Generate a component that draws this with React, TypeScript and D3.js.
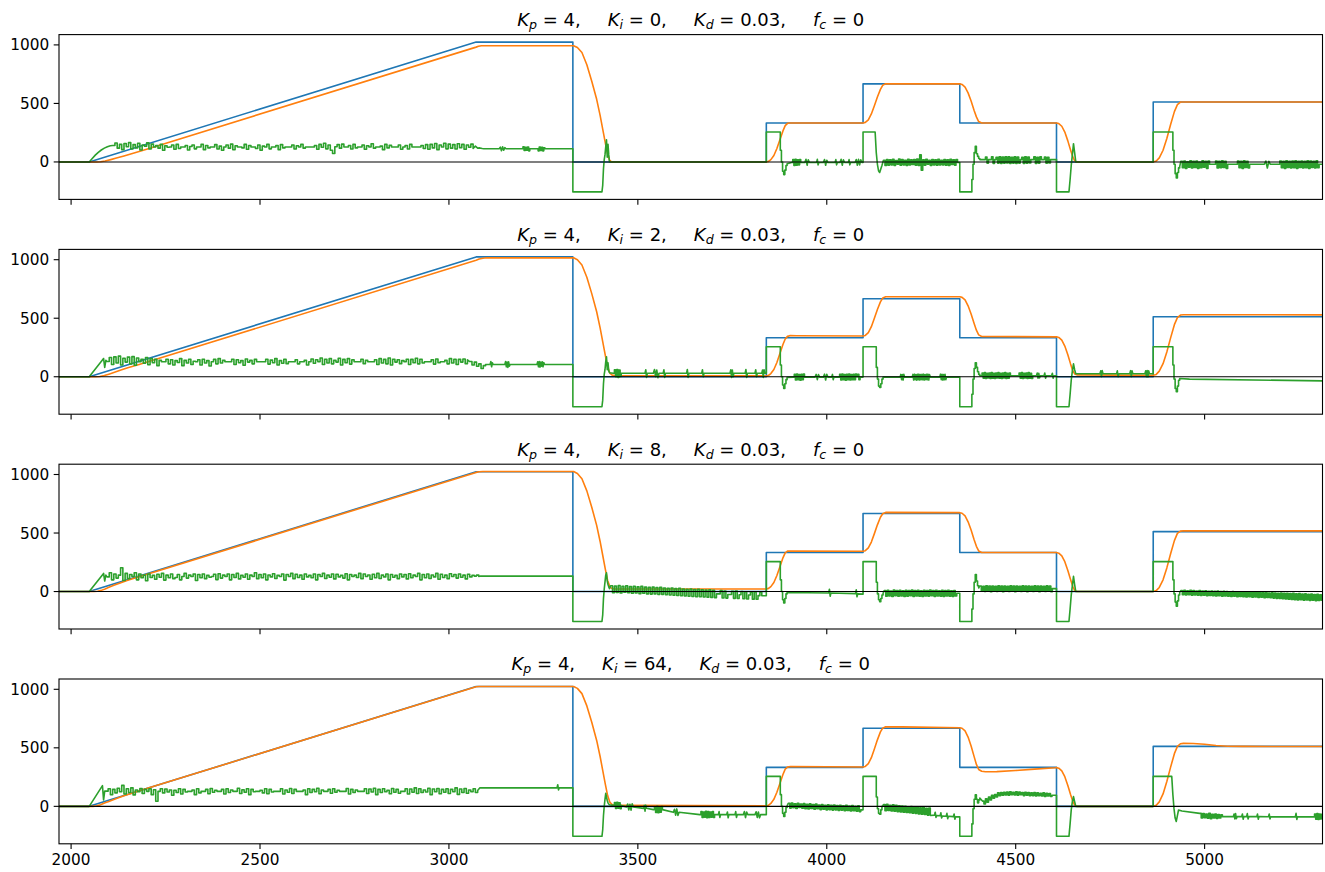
import React from "react";
import * as d3 from "d3";

type Pt = [number, number];
type Run = [number, number, number[]]; // [t0, dt, values]

const W = 1325;
const H = 872;
const xDomain: [number, number] = [1968, 5312];
const yDomain: [number, number] = [-320, 1088];
const xTicks = [2000, 2500, 3000, 3500, 4000, 4500, 5000];
const yTicks = [0, 500, 1000];
const Kp = 4;
const Kd = 0.03;
const fc = 0;
const KiValues = [0, 2, 8, 64];

// setpoint (blue), same in every panel
const setpoint: Pt[] = [
  [1968, 0], [2048, 0], [3072, 1024], [3328, 1024], [3328, 0], [3840, 0], [3840, 333],
  [4096, 333], [4096, 667], [4352, 667], [4352, 333], [4608, 333], [4608, 0], [4864, 0],
  [4864, 512], [5312, 512],
];

// position (orange)
const posKi0: Pt[] = [
  [1968, 0], [2068, 0], [2078, 2], [2090, 8], [2105, 20], [2120, 33], [2140, 51], [2160, 70], [2200, 109],
  [3072, 981], [3078, 988], [3086, 993], [3330, 993], [3340, 978], [3352, 935], [3365, 830], [3378, 690],
  [3391, 535], [3400, 400], [3407, 280], [3414, 160], [3420, 70], [3425, 15], [3430, 0], [3840, 0],
  [3846, 5], [3852, 20], [3860, 55], [3868, 115], [3876, 190], [3884, 265], [3890, 310], [3896, 330],
  [3902, 333], [4096, 333], [4102, 338], [4110, 360], [4118, 410], [4126, 480], [4134, 555], [4142, 620],
  [4148, 655], [4155, 667], [4352, 667], [4358, 662], [4366, 640], [4374, 590], [4382, 520], [4390, 440],
  [4396, 385], [4402, 345], [4410, 333], [4608, 333], [4614, 328], [4622, 305], [4630, 255], [4638, 180],
  [4645, 105], [4651, 45], [4656, 10], [4662, 0], [4864, 0], [4872, 8], [4880, 35], [4890, 100],
  [4900, 200], [4910, 320], [4920, 430], [4928, 490], [4936, 512], [5312, 512],
];
const posKi2: Pt[] = [
  [1968, 0], [2066, 0], [2076, 2], [2088, 10], [2100, 22], [2115, 38], [2130, 55], [2150, 76], [2180, 104],
  [3072, 996], [3080, 1006], [3090, 1013], [3100, 1016], [3330, 1016], [3340, 1000], [3352, 955], [3365, 850],
  [3378, 710], [3391, 555], [3400, 420], [3407, 300], [3414, 180], [3420, 85], [3426, 30], [3432, 14],
  [3440, 11], [3840, 7], [3846, 12], [3852, 27], [3860, 62], [3868, 122], [3876, 198], [3884, 275],
  [3890, 322], [3896, 345], [3902, 351], [3920, 350], [4096, 348], [4102, 353], [4110, 377], [4118, 428],
  [4126, 500], [4134, 575], [4142, 640], [4148, 672], [4156, 683], [4352, 683], [4358, 678], [4366, 656],
  [4374, 606], [4382, 536], [4390, 455], [4396, 398], [4402, 358], [4410, 344], [4608, 341], [4614, 336],
  [4622, 313], [4630, 262], [4638, 188], [4645, 112], [4651, 52], [4656, 24], [4662, 16], [4864, 12],
  [4872, 20], [4880, 48], [4890, 112], [4900, 212], [4910, 332], [4920, 445], [4928, 505], [4936, 527],
  [4944, 530], [5312, 529],
];
const posKi8: Pt[] = [
  [1968, 0], [2060, 0], [2070, 3], [2080, 10], [2090, 22], [2100, 36], [2115, 55], [2130, 74], [2150, 96],
  [3072, 1018], [3080, 1023], [3090, 1025], [3330, 1025], [3340, 1009], [3352, 964], [3365, 860],
  [3378, 720], [3391, 565], [3400, 430], [3407, 310], [3414, 190], [3420, 95], [3426, 40], [3432, 25],
  [3440, 22], [3840, 22], [3846, 27], [3852, 42], [3860, 77], [3868, 137], [3876, 212], [3884, 288],
  [3890, 330], [3896, 345], [3902, 347], [4096, 344], [4102, 349], [4110, 373], [4118, 423], [4126, 495],
  [4134, 570], [4142, 635], [4148, 665], [4156, 676], [4352, 674], [4358, 669], [4366, 646], [4374, 596],
  [4382, 525], [4390, 443], [4396, 386], [4402, 347], [4410, 334], [4608, 333], [4614, 328], [4622, 305],
  [4630, 255], [4638, 180], [4645, 105], [4651, 45], [4656, 10], [4662, 0], [4864, 0], [4872, 8],
  [4880, 35], [4890, 100], [4900, 202], [4910, 323], [4920, 435], [4928, 497], [4936, 516], [4944, 519],
  [5312, 518],
];
const posKi64: Pt[] = [
  [1968, 0], [2058, 0], [2068, 4], [2078, 14], [2090, 30], [2100, 42], [2120, 66], [2140, 90], [2200, 152],
  [3072, 1022], [3080, 1024], [3330, 1024], [3340, 1008], [3352, 963], [3365, 858], [3378, 718],
  [3391, 563], [3400, 428], [3407, 308], [3414, 188], [3420, 92], [3426, 35], [3432, 15], [3440, 8],
  [3840, 5], [3846, 10], [3852, 25], [3860, 60], [3868, 120], [3876, 196], [3884, 272], [3890, 318],
  [3896, 335], [3904, 340], [4096, 336], [4102, 341], [4110, 365], [4118, 416], [4126, 490], [4134, 568],
  [4142, 636], [4148, 668], [4156, 680], [4200, 679], [4352, 672], [4358, 667], [4366, 644], [4374, 592],
  [4382, 515], [4390, 425], [4396, 358], [4402, 315], [4410, 300], [4420, 296], [4450, 297], [4500, 306],
  [4550, 318], [4605, 330], [4608, 331], [4614, 326], [4622, 303], [4630, 253], [4638, 178], [4645, 103],
  [4651, 44], [4656, 10], [4662, 0], [4864, 0], [4872, 9], [4880, 38], [4890, 106], [4900, 212],
  [4910, 335], [4920, 450], [4928, 512], [4936, 535], [4944, 538], [4970, 537], [5000, 530], [5030, 520],
  [5060, 514], [5100, 512], [5312, 511],
];

// control output (green), runs of samples [t0, dt, values]
const ctrlKi0: Run[] = [
  [1968, 80, [0, 0]],
  [2056, 8, [30, 58, 82, 102, 118, 130, 138]],
  [2110, 6, [
    140, 162, 118, 150, 105, 158, 130, 165, 112, 148,
    120, 160, 102, 145, 135, 163, 110, 152, 128, 140,
    118, 150, 100, 138, 125, 128, 145, 108, 150, 115,
    128, 128, 140, 102, 132, 145, 112, 128, 128, 150,
    105, 140, 120, 128, 128, 148, 110, 135, 100, 128,
    145, 118, 152, 104, 138, 128, 128, 120, 150, 108,
    140, 128, 128, 115, 145, 100, 135, 128, 150, 112,
    128, 128, 140, 105, 148, 120, 128, 128, 128, 145,
    110, 138, 128, 150, 118, 128, 128, 128, 128, 140,
    108, 150, 125, 160, 112, 145, 100, 72, 130, 148,
    118, 152, 128, 128, 140, 110, 150, 120, 128, 128,
    145, 108, 138, 128, 155, 118, 128, 128, 135, 105,
    150, 120, 142, 128, 128, 128, 145, 108, 128, 140,
    110, 150, 128, 128, 128, 128, 140, 115, 148, 108,
    150, 120, 158, 105, 145, 128, 160, 112, 152, 118,
    148, 110, 155, 122, 150, 108, 145, 125, 152, 115]],
  [3070, 6, [135, 118, 120, 115]],
  [3092, 0, [113]],
  [3133, 3, [113, 126, 96, 130, 100, 122, 113]],
  [3193, 3, [113, 130, 98, 125, 100, 128, 95, 113]],
  [3233, 3, [113, 95, 128, 98, 125, 95, 120, 113]],
  [3328, 0, [113, -256]],
  [3405, 2, [-256, -200, -60, 20, 60, 130, 190, 40, 150, 60, 0]],
  [3840, 0, [0, 256]],
  [3874, 3, [256, 100, 0, -80, -108, -70, -30, -15]],
  [3907, 3, [-5, 20, -30, 22, -28, 18, -25, 20, -5]],
  [3942, 3, [-5, 22, -28, 18, -5]],
  [3973, 2, [-5, 22, -25, -5]],
  [3991, 3, [-5, 20, -28, 15, -5]],
  [4022, 2, [-5, 20, -25, -5]],
  [4035, 3, [-5, 22, -28, 18, -5]],
  [4057, 2, [-5, 20, -25, -5]],
  [4075, 3, [-5, 20, -28, 22, -25, 18, -5]],
  [4096, 0, [-5, 256]],
  [4128, 3, [256, 80, -20, -75, -90, -60, -30]],
  [4150, 4, [
    15, -30, 20, -28, 18, -25, 22, -30, 12, -20,
    25, -28, 20, -25, 15, -30, 22, -26, 18, -22,
    20, -28, 25, -30, 60, -70, 18, -28, 22, -20,
    15, -30, 20, -25, 18, -28, 22, -26, 15, -25,
    20, -28, 18, -30, 22, -22, 18, -28, 20, -5]],
  [4352, 0, [-5, -256]],
  [4381, 3, [-256, -150, -20, 80, 133, 70, 48, 30, 20]],
  [4408, 4, [
    20, 20, 20, 42, -10, 20, 20, 45, -12, 20,
    40, -10, 45, -12, 42, -10, 44, -8, 45, -12,
    40, -10, 45, -12, 42, -10, 20, 40, -12, 45,
    -10, 42, -8, 20, 20, 44, -12, 40, -10, 45,
    20, 20, 42, -10, 40, -8, 20, 20]],
  [4608, 0, [20, -256]],
  [4641, 3, [-256, -150, -30, 60, 156, 80, 0]],
  [4864, 0, [0, 256]],
  [4913, 3, [256, 100, -20, -100, -137, -90, -51, -40]],
  [4937, 4, [5, -50, 8, -55, 2, -45, 10, -52, 5, -48, 8, -55, 0, -50, 10, -45, 5, -55, 8, -20]],
  [5025, 4, [-20, 8, -52, 5, -50, 10, -48, 5, -55, -20]],
  [5083, 4, [-20, 8, -50, 5, -55, 10, -48, 5, -52, -20]],
  [5158, 4, [-20, 8, -52, 5, -20]],
  [5195, 4, [-20, 8, -50, 5, -55, 10, -48, 5, -52, 8, -50, 10, -55, 5, -48, 8, -52, 5, -50, 10, -55, 8, -48, 5, -52, 10, -50, -20]],
  [5312, 0, [-20]],
];

const ctrlKi2: Run[] = [
  [1968, 80, [0, 0]],
  [2086, 3, [156, 80, 140]],
  [2095, 6, [
    130, 165, 105, 170, 118, 176, 100, 158, 125, 168,
    110, 172, 98, 160, 128, 150, 115, 165, 102, 155,
    120, 148, 95, 140, 128, 128, 150, 110, 145, 100,
    138, 122, 155, 95, 140, 118, 150, 105, 132, 128,
    145, 100, 150, 118, 138, 92, 128, 148, 110, 155,
    118, 140, 128, 128, 128, 150, 105, 145, 120, 138,
    98, 152, 125, 140, 110, 148, 128, 128, 128, 128,
    150, 108, 142, 120, 155, 100, 138, 115, 150, 112,
    128, 128, 128, 145, 110, 128, 128, 140, 100, 128,
    152, 115, 145, 128, 160, 105, 150, 118, 155, 110,
    140, 125, 158, 100, 148, 120, 155, 108, 145, 128,
    128, 128, 150, 112, 140, 128, 128, 128, 145, 105,
    155, 118, 148, 110, 160, 100, 150, 125, 145, 112,
    138, 128, 150, 105, 148, 120, 158, 110, 150, 118,
    128, 128, 128, 145, 108, 152, 120, 128, 128, 140,
    110, 155, 118, 150, 105, 148, 125, 152, 112, 145]],
  [3055, 6, [130, 100, 125, 90, 110, 70, 95, 105]],
  [3109, 2, [105, 130, 85, 120, 105]],
  [3148, 2, [105, 130, 85, 125, 80, 128, 90, 105]],
  [3233, 2, [105, 128, 85, 130, 82, 125, 90, 128, 85, 122, 105]],
  [3328, 0, [105, -256]],
  [3405, 2, [-256, -200, -60, 20, 60, 130, 170, 60, 120, 50, 34]],
  [3435, 3, [30, 60, 0, 62, -5, 58, 2, 30]],
  [3519, 2, [30, 60, -5, 30]],
  [3541, 3, [30, 62, 0, 58, -8, 30]],
  [3567, 2, [30, 60, -5, 30]],
  [3629, 2, [30, 62, -5, 30]],
  [3669, 2, [30, 60, 0, 30]],
  [3744, 2, [30, 60, -5, 58, 0, 30]],
  [3784, 2, [30, 62, -5, 30]],
  [3810, 2, [30, 60, 0, 30]],
  [3828, 2, [30, 58, -5, 60, 30]],
  [3840, 0, [30, 256]],
  [3874, 3, [256, 100, 0, -70, -100, -60, -25, -5]],
  [3911, 3, [-3, 20, -28, 22, -25, 18, -30, 20, -26, 22, -3]],
  [3969, 3, [-3, 20, -25, 18, -3]],
  [3991, 3, [-3, 22, -28, 20, -3]],
  [4013, 2, [-3, 20, -25, -3]],
  [4031, 3, [-3, 20, -28, 22, -25, 18, -30, 20, -26, 22, -28, 18, -25, 20, -26, 22, 0, 20, -25, -3]],
  [4096, 0, [-3, 256]],
  [4128, 3, [256, 80, -20, -80, -91, -60, -20, -3]],
  [4194, 2, [-3, 20, -25, 18, -28, 20, -3]],
  [4226, 2, [-3, 20, -28, 22, -25, 18, -30, 20, -26, 22, -28, 18, -25, 20, -26, 22, -28, 18, -25, 20, -26, 22, -28, 18, -3]],
  [4299, 2, [-3, 22, -25, 20, -28, 18, -26, 20, -25, -3]],
  [4352, 0, [-3, -256]],
  [4381, 3, [-256, -150, -20, 70, 119, 80, 43, 20, 9]],
  [4408, 3, [9, 32, -12, 35, -15, 30, -10, 32, -14, 35, -12, 30, -15, 32, -10, 35, -12, 30, -14, 32, -10, 35, -15, 30, -12, 32, 9]],
  [4506, 3, [9, 32, -12, 35, -15, 30, -10, 32, -14, 35, -12, 30, -15, 9]],
  [4555, 2, [9, 32, -12, 30, -10, 9]],
  [4575, 2, [9, 32, -12, 9]],
  [4595, 2, [9, 30, -12, 9]],
  [4608, 0, [9, -256]],
  [4641, 3, [-256, -150, -30, 50, 110, 60, 26]],
  [4723, 2, [26, 50, 0, 52, 26]],
  [4767, 2, [26, 50, 0, 26]],
  [4802, 2, [26, 52, 0, 50, 26]],
  [4842, 2, [26, 50, 0, 52, -2, 50, 26]],
  [4864, 0, [26, 256]],
  [4913, 3, [256, 100, -20, -100, -128, -80, -30, -15]],
  [4960, 0, [-20]],
  [5312, 0, [-35]],
];

const ctrlKi8: Run[] = [
  [1968, 80, [0, 0]],
  [2086, 3, [155, 90, 140]],
  [2095, 6, [
    125, 160, 100, 150, 115, 140, 203, 95, 155, 110,
    145, 128, 160, 100, 150, 118, 140, 92, 150, 120,
    138, 105, 148, 122, 155, 98, 140, 118, 150, 110,
    120, 145, 100, 128, 155, 115, 140, 128, 150, 95,
    145, 118, 150, 110, 138, 122, 128, 148, 102, 152,
    115, 140, 128, 150, 100, 145, 120, 155, 108, 138,
    122, 150, 105, 140, 128, 160, 110, 145, 118, 150,
    100, 142, 125, 152, 112, 138, 128, 150, 98, 145,
    128, 155, 110, 148, 120, 140, 105, 150, 125, 138,
    118, 150, 100, 145, 128, 155, 112, 140, 122, 150,
    108, 148, 125, 138, 115, 152, 100, 145, 128, 140,
    120, 155, 110, 150, 128, 142, 105, 148, 118, 155,
    112, 140, 125, 150, 100, 145, 122, 138, 110, 150,
    125, 145, 108, 152, 118, 140, 128, 155, 100, 145,
    118, 150, 112, 142, 125, 155, 105, 148, 120, 140,
    110, 152, 128, 145, 115, 150, 122, 140, 108, 148,
    125, 138, 132, 140, 128]],
  [3084, 0, [132]],
  [3328, 0, [132, -256]],
  [3405, 2, [-256, -200, -60, 20, 80, 140, 160, 90, 60, 40, 25]],
  [3428, 5, [
    50, -10, 48, -8, 52, -12, 45, -5, 50, -10,
    42, -15, 45, -12, 40, -18, 44, -14, 38, -20,
    36, -22, 38, -20, 34, -25, 36, -24, 30, -28,
    28, -30, 30, -32, 25, -34, 28, -36, 22, -38,
    20, -40, 22, -42, 18, -44, 20, -45, 15, -46,
    12, -48, 14, -50, 10, -52, -20, -20, 8, -55,
    5, -56, -25, -25, 2, -58, 4, -60, -28, 0,
    -62, -2, -64, -30, -5, -65, -3, -66, -35, -6, -36]],
  [3840, 0, [-36, 256]],
  [3874, 3, [256, 100, 0, -70, -97, -60, -20, -8]],
  [3950, 0, [-10]],
  [4005, 2, [-12, 20, -40, -13]],
  [4076, 2, [-18, 15, -45, -20]],
  [4096, 0, [-22, 256]],
  [4128, 3, [256, 80, -20, -70, -87, -60, -30, -15]],
  [4152, 4, [
    8, -40, 10, -38, 5, -42, 12, -36, 8, -40,
    10, -38, 6, -42, 10, -40, 8, -36, 12, -42,
    8, -38, 10, -40, 6, -42, 10, -38, 8, -40,
    12, -36, 8, -42, 10, -38, 6, -40, 10, -42,
    8, -38, 10, -40, 6, -42, 8, -38, -15]],
  [4352, 0, [-15, -256]],
  [4381, 3, [-256, -150, -20, 80, 145, 90, 50, 30]],
  [4405, 4, [
    48, 2, 45, 0, 50, 5, 46, -2, 48, 3,
    45, 0, 50, 4, 46, -2, 48, 2, 45, 0,
    50, 5, 46, -2, 48, 3, 45, 0, 50, 4,
    46, -2, 48, 2, 45, 0, 50, 5, 46, -2,
    48, 3, 45, 0, 50, 4, 46, -2, 25]],
  [4608, 0, [25, -256]],
  [4641, 3, [-256, -150, -30, 50, 130, 60, 0]],
  [4864, 0, [0, 256]],
  [4913, 3, [256, 100, -20, -90, -125, -80, -30, -10]],
  [4937, 4, [
    8, -28, 10, -30, 6, -28, 10, -32, 8, -30,
    5, -32, 8, -34, 4, -32, 6, -35, 3, -34,
    5, -36, 2, -38, 4, -36, 0, -40, 2, -38,
    0, -40, -2, -42, 0, -40, -4, -44, -2, -42,
    -4, -45, -2, -46, -6, -44, -4, -48, -6, -46,
    -8, -50, -6, -48, -10, -52, -8, -50, -12, -52,
    -10, -56, -12, -58, -14, -60, -12, -62, -16, -64,
    -14, -66, -18, -68, -16, -70, -20, -72, -18, -70,
    -22, -74, -20, -72, -24, -76, -22, -75, -26, -78, -24, -76, -28, -74]],
  [5312, 0, [-45]],
];

const ctrlKi64: Run[] = [
  [1968, 80, [0, 0]],
  [2083, 3, [177, 55, 130]],
  [2092, 6, [
    130, 150, 100, 145, 115, 155, 125, 179, 105, 150,
    118, 158, 98, 140, 125, 152, 110, 145, 128, 150,
    100, 142, 43, 128, 150, 115, 148, 122, 140, 95,
    138, 118, 150, 105, 145, 122, 128, 128, 140, 100,
    150, 115, 128, 128, 145, 108, 152, 120, 138, 128,
    128, 145, 105, 150, 118, 140, 128, 128, 155, 110,
    142, 120, 150, 100, 145, 125, 128, 128, 138, 115,
    150, 108, 145, 122, 128, 128, 128, 150, 105, 140,
    120, 152, 110, 145, 128, 128, 128, 140, 100, 150,
    118, 145, 125, 155, 108, 140, 128, 128, 145, 112,
    150, 120, 138, 128, 128, 128, 152, 105, 145, 118,
    140, 128, 128, 128, 150, 110, 148, 122, 155, 100,
    145, 118, 150, 125, 138, 108, 152, 120, 145, 112,
    128, 128, 150, 105, 148, 120, 158, 110, 150, 118,
    140, 122, 155, 100, 148, 125, 152, 108, 145, 120,
    150, 110, 145, 125, 158, 102, 148, 118, 152, 112,
    140, 125, 150, 118, 135]],
  [3082, 0, [158]],
  [3286, 2, [158, 185, 140, 158]],
  [3328, 0, [158, -256]],
  [3405, 2, [-256, -200, -80, 0, 60, 112, 80, 50, 30, 20, 13]],
  [3435, 3, [8, 32, -18, 35, -15, 30, -20, 8]],
  [3470, 3, [-6, 20, -30, 18, -32, 22, -6]],
  [3515, 2, [-17, 8, -42, 10, -17]],
  [3541, 3, [-28, -3, -52, 0, -55, -5, -50, -2, -28]],
  [3594, 3, [-51, -25, -75, -22, -78, -51]],
  [3664, 3, [-71, -45, -95, -48, -92, -42, -98, -45, -95, -48, -92, -45, -95, -71]],
  [3713, 2, [-71, -45, -95, -71]],
  [3735, 2, [-71, -48, -98, -71]],
  [3757, 2, [-71, -45, -95, -71]],
  [3779, 3, [-71, -45, -96, -48, -71]],
  [3810, 3, [-71, -46, -95, -48, -98, -71]],
  [3840, 0, [-71, 256]],
  [3874, 3, [256, 100, 0, -60, -87, -50, -10, 5]],
  [3898, 4, [
    25, -15, 28, -12, 22, -18, 26, -10, 20, -16,
    24, -20, 18, -22, 22, -18, 15, -25, 20, -20,
    12, -28, 16, -25, 10, -30, 14, -28, 8, -32,
    12, -30, 6, -35, 10, -32, 4, -38, 8, -35,
    2, -40, 6, -38, 0, -42, 4, -45, -30]],
  [4096, 0, [-30, 256]],
  [4128, 3, [256, 80, -20, -60, -67, -30, 0, 10]],
  [4150, 4, [
    15, -38, 18, -35, 10, -40, 14, -42, 8, -45,
    5, -48, 2, -50, 0, -52, -4, -55, -2, -58,
    -8, -60, -6, -65, -12, -68, -10, -70, -16, -75, -14, -78]],
  [4285, 2, [-75, -50, -95, -78]],
  [4300, 2, [-80, -55, -100, -82]],
  [4316, 2, [-84, -60, -105, -85]],
  [4335, 2, [-88, -65, -110, -90]],
  [4352, 0, [-90, -256]],
  [4381, 3, [-256, -150, -20, 60, 98, 60, 30, 55, 70]],
  [4412, 4, [
    45, 20, 65, 35, 80, 55, 95, 70, 100, 80,
    115, 90, 118, 95, 120, 98, 122, 95, 125, 100,
    120, 98, 125, 95, 122, 100, 118, 92, 120, 95,
    118, 90, 115, 92, 118, 88, 115, 90, 112, 88,
    115, 85, 112, 88, 110, 85, 95]],
  [4608, 0, [95, -256]],
  [4641, 3, [-256, -150, -30, 40, 83, 40, 0]],
  [4864, 0, [0, 256]],
  [4913, 3, [256, 100, -20, -100, -129, -80, -31]],
  [4940, 0, [-40]],
  [4987, 4, [-60, -100, -62, -98, -65, -102, -60, -105, -68, -100, -65, -104, -70, -100, -72, -88]],
  [5076, 2, [-88, -65, -108, -62, -105, -88]],
  [5098, 2, [-88, -65, -110, -88]],
  [5111, 2, [-88, -62, -108, -88]],
  [5138, 2, [-88, -66, -110, -88]],
  [5169, 2, [-89, -65, -108, -89]],
  [5240, 2, [-90, -60, -112, -90]],
  [5288, 3, [-90, -65, -110, -62, -112, -66, -108, -68, -90]],
];

const positions = [posKi0, posKi2, posKi8, posKi64];
const controls = [ctrlKi0, ctrlKi2, ctrlKi8, ctrlKi64];

const C0 = "#1f77b4";
const C1 = "#ff7f0e";
const C2 = "#2ca02c";
const LEFT = 59;
const RIGHT = 1322.5;
const TOP0 = 34.6;
const STEP = 214.8;
const PH = 164.8;
const TICK = 5.3;
const FONT = "DejaVu Sans, Bitstream Vera Sans, sans-serif";

// Dense sample runs are drawn as held (step) samples, as the sampled signal is.
function ctrlPath(
  runs: Run[],
  x: d3.ScaleLinear<number, number>,
  y: d3.ScaleLinear<number, number>
): string {
  const p = d3.path();
  let started = false;
  runs.forEach(([t0, dt, vs]) => {
    const held = dt >= 3 && dt <= 6 && vs.length >= 8;
    vs.forEach((v, i) => {
      const px = x(t0 + i * dt);
      const py = y(v);
      if (!started) {
        p.moveTo(px, py);
        started = true;
        return;
      }
      if (held && i > 0) p.lineTo(px, y(vs[i - 1]));
      p.lineTo(px, py);
    });
  });
  return p.toString();
}

function Title({ cx, y, ki }: { cx: number; y: number; ki: number }) {
  const sub = { fontSize: 12.6, fontStyle: "italic" as const };
  return (
    <text x={cx} y={y} textAnchor="middle" fontSize={18} fill="#000" style={{ whiteSpace: "pre" }}>
      <tspan fontStyle="italic">K</tspan>
      <tspan {...sub} dy={3}>p</tspan>
      <tspan dy={-3}>{` = ${Kp},`}</tspan>
      <tspan dx={27} fontStyle="italic">K</tspan>
      <tspan {...sub} dy={3}>i</tspan>
      <tspan dy={-3}>{` = ${ki},`}</tspan>
      <tspan dx={27} fontStyle="italic">K</tspan>
      <tspan {...sub} dy={3}>d</tspan>
      <tspan dy={-3}>{` = ${Kd},`}</tspan>
      <tspan dx={27} fontStyle="italic">f</tspan>
      <tspan {...sub} dy={3}>c</tspan>
      <tspan dy={-3}>{` = ${fc}`}</tspan>
    </text>
  );
}

export default function App() {
  const x = d3.scaleLinear().domain(xDomain).range([LEFT, RIGHT]);
  const cx = (LEFT + RIGHT) / 2;
  return (
    <svg
      width={W}
      height={H}
      style={{ position: "absolute", left: 0, top: 0, background: "#fff" }}
      fontFamily={FONT}
    >
      <rect x={0} y={0} width={W} height={H} fill="#fff" />
      {KiValues.map((ki, i) => {
        const top = TOP0 + i * STEP;
        const bottom = top + PH;
        const y = d3.scaleLinear().domain(yDomain).range([bottom, top]);
        const line = d3.line<Pt>().x((d) => x(d[0])).y((d) => y(d[1]));
        const clipId = `clip${i}`;
        const isLast = i === KiValues.length - 1;
        return (
          <g key={ki}>
            <defs>
              <clipPath id={clipId}>
                <rect x={LEFT} y={top} width={RIGHT - LEFT} height={PH} />
              </clipPath>
            </defs>
            <g clipPath={`url(#${clipId})`} fill="none" strokeLinejoin="round" strokeLinecap="butt">
              <path d={line(setpoint) || ""} stroke={C0} strokeWidth={1.6} />
              <path d={line(positions[i]) || ""} stroke={C1} strokeWidth={1.6} />
              <path d={ctrlPath(controls[i], x, y)} stroke={C2} strokeWidth={1.6} />
              <line x1={LEFT} x2={RIGHT} y1={y(0)} y2={y(0)} stroke="#000" strokeWidth={1.1} />
            </g>
            <rect x={LEFT} y={top} width={RIGHT - LEFT} height={PH} fill="none" stroke="#000" strokeWidth={1.1} />
            {yTicks.map((t) => (
              <g key={t}>
                <line x1={LEFT - TICK} x2={LEFT} y1={y(t)} y2={y(t)} stroke="#000" strokeWidth={1.1} />
                <text x={LEFT - TICK - 4.5} y={y(t) + 5.5} textAnchor="end" fontSize={15.3} fill="#000">
                  {t}
                </text>
              </g>
            ))}
            {xTicks.map((t) => (
              <g key={t}>
                <line x1={x(t)} x2={x(t)} y1={bottom} y2={bottom + TICK} stroke="#000" strokeWidth={1.1} />
                {isLast && (
                  <text x={x(t)} y={bottom + TICK + 15.8} textAnchor="middle" fontSize={15.3} fill="#000">
                    {t}
                  </text>
                )}
              </g>
            ))}
            <Title cx={cx} y={top - 8.7} ki={ki} />
          </g>
        );
      })}
    </svg>
  );
}
